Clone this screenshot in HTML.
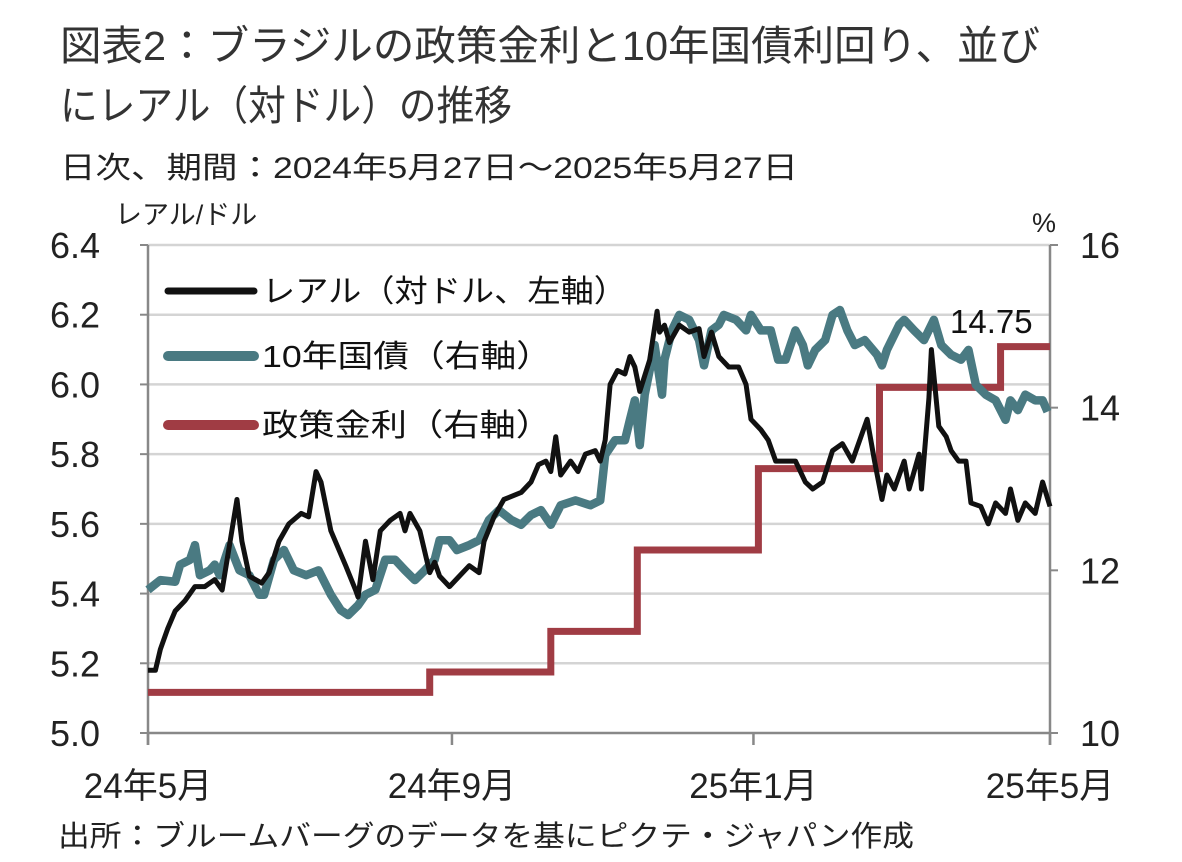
<!DOCTYPE html>
<html><head><meta charset="utf-8"><style>
body{margin:0;background:#fff;}
svg{display:block;font-family:"Liberation Sans","Noto Sans CJK JP",sans-serif;}
</style></head><body>
<svg id="chart" width="1182" height="862" viewBox="0 0 1182 862" xmlns="http://www.w3.org/2000/svg">
<text x="60" y="60" font-size="41" fill="#333" textLength="980" lengthAdjust="spacingAndGlyphs">図表2：ブラジルの政策金利と10年国債利回り、並び</text>
<text x="60" y="120" font-size="41" fill="#333" textLength="452" lengthAdjust="spacingAndGlyphs">にレアル（対ドル）の推移</text>
<text x="60" y="178" font-size="30" fill="#222" textLength="738" lengthAdjust="spacingAndGlyphs">日次、期間：2024年5月27日～2025年5月27日</text>
<text x="115" y="224" font-size="27" fill="#222">レアル/ドル</text>
<text x="1032" y="232" font-size="27" fill="#222">%</text>
<g id="grid"></g><g id="axes"></g><g id="series"></g>
<g>
<line x1="168" y1="291" x2="254" y2="291" stroke="#111" stroke-width="7" stroke-linecap="round"/>
<text x="262" y="302" font-size="31" fill="#111" textLength="365" lengthAdjust="spacingAndGlyphs">レアル（対ドル、左軸）</text>
<line x1="168" y1="356" x2="254" y2="356" stroke="#4a7a82" stroke-width="10" stroke-linecap="round"/>
<text x="262" y="367" font-size="31" fill="#111" textLength="290" lengthAdjust="spacingAndGlyphs">10年国債（右軸）</text>
<line x1="168" y1="425" x2="254" y2="425" stroke="#a03c44" stroke-width="10" stroke-linecap="round"/>
<text x="262" y="436" font-size="31" fill="#111" textLength="290" lengthAdjust="spacingAndGlyphs">政策金利（右軸）</text>
</g>
<text x="950" y="333" font-size="33" fill="#111">14.75</text>
<text x="58" y="846" font-size="29" fill="#222" textLength="856" lengthAdjust="spacingAndGlyphs">出所：ブルームバーグのデータを基にピクテ・ジャパン作成</text>
</svg>
<script>
const brlDays=[0,3,5,8,11,15,19,23,27,30,33,36,38,41,46,49,53,57,62,65,68,70,74,80,84,85,88,91,94,98,102,104,106,110,114,116,118,122,126,130,134,136,140,144,151,155,158,161,163,165,167,171,174,177,181,183,185,187,190,193,195,197,199,203,206,207,209,211,215,219,223,225,228,231,235,239,242,244,248,251,254,258,262,266,269,273,277,281,285,288,291,294,297,299,302,306,308,312,313,316,317,320,323,325,328,331,333,337,340,343,347,349,352,355,359,362,365];
const brlValues=[5.18,5.18,5.24,5.30,5.35,5.38,5.42,5.42,5.44,5.41,5.54,5.67,5.55,5.45,5.43,5.46,5.55,5.60,5.63,5.62,5.75,5.72,5.58,5.48,5.41,5.39,5.55,5.44,5.58,5.61,5.63,5.58,5.63,5.58,5.46,5.49,5.45,5.42,5.45,5.48,5.46,5.55,5.62,5.67,5.69,5.72,5.77,5.78,5.75,5.85,5.74,5.78,5.75,5.80,5.81,5.78,5.84,6.00,6.04,6.03,6.08,6.05,5.98,6.07,6.21,6.15,6.17,6.12,6.17,6.15,6.16,6.08,6.15,6.08,6.05,6.05,6.00,5.90,5.87,5.84,5.78,5.78,5.78,5.72,5.70,5.72,5.81,5.83,5.78,5.84,5.90,5.78,5.67,5.74,5.70,5.78,5.70,5.80,5.70,5.96,6.10,5.88,5.85,5.81,5.78,5.78,5.66,5.65,5.60,5.66,5.63,5.70,5.61,5.66,5.63,5.72,5.65];
const bondDays=[0,5,11,13,17,19,21,25,27,29,33,37,41,45,47,51,55,59,64,69,74,78,81,85,88,92,96,100,104,108,112,116,118,122,125,130,134,138,142,147,151,155,159,163,167,173,179,183,185,189,193,195,197,199,201,203,205,208,209,212,215,219,223,225,228,231,233,238,242,244,248,252,255,258,262,265,267,270,274,277,280,283,286,290,295,297,299,304,306,310,314,318,321,325,329,332,335,339,343,345,347,349,352,355,359,362,364];
const bondValues=[11.76,11.88,11.86,12.07,12.13,12.31,11.94,12.0,12.07,11.94,12.31,12.0,11.94,11.70,11.70,12.13,12.25,12.0,11.94,12.0,11.70,11.51,11.45,11.57,11.70,11.76,12.13,12.13,12.0,11.88,12.0,12.13,12.37,12.37,12.25,12.31,12.37,12.62,12.74,12.62,12.56,12.68,12.74,12.56,12.80,12.86,12.80,12.86,13.42,13.60,13.60,13.85,14.09,13.54,14.16,14.46,14.77,14.16,14.59,14.95,15.14,15.08,14.83,14.52,14.95,15.02,15.14,15.08,14.95,15.14,14.95,14.95,14.59,14.59,14.95,14.77,14.52,14.71,14.83,15.14,15.20,14.95,14.77,14.83,14.65,14.52,14.71,15.02,15.08,14.95,14.83,15.08,14.77,14.65,14.59,14.71,14.28,14.16,14.09,13.97,13.85,14.09,13.97,14.16,14.09,14.09,13.95];
const policyDays=[0,114,163,198,247,296,345];
const policyValues=[10.5,10.75,11.25,12.25,13.25,14.25,14.75];
const leftTicks=[5.0,5.2,5.4,5.6,5.8,6.0,6.2,6.4];
const leftTickLabels=["5.0","5.2","5.4","5.6","5.8","6.0","6.2","6.4"];
const rightTicks=[10,12,14,16];
const xTickDays=[0,123,245,365];
const xTickLabels=["24年5月","24年9月","25年1月","25年5月"];
const totalDays=365;

const X0=148,X1=1050,YT=245,YB=733;
const xs=d=>X0+(X1-X0)*d/totalDays;
const yl=v=>YB-(v-5.0)/1.4*(YB-YT);
const yr=v=>YB-(v-10)/6*(YB-YT);
const NS="http://www.w3.org/2000/svg";
function mk(tag,attrs,parent){const e=document.createElementNS(NS,tag);for(const k in attrs)e.setAttribute(k,attrs[k]);parent.appendChild(e);return e;}
const grid=document.getElementById('grid'),axes=document.getElementById('axes'),series=document.getElementById('series');
leftTicks.forEach((t,i)=>{
  if(i>0){const g=mk('line',{x1:X0,x2:X1,y1:yl(t),y2:yl(t),stroke:'#d4d4d4','stroke-width':2.5},grid);
  
  }
  const tk=mk('line',{x1:X0-8,x2:X0,y1:yl(t),y2:yl(t),stroke:'#888','stroke-width':2},axes);
  
  
  const lb=mk('text',{x:X0-48,y:yl(t)+13,'font-size':36,'text-anchor':'end',fill:'#222','font-family':'"Liberation Sans Narrow","Liberation Sans",sans-serif'},axes);
  lb.textContent=leftTickLabels[i];
  
  
});
rightTicks.forEach(t=>{
  const tk=mk('line',{x1:X1,x2:X1+8,y1:yr(t),y2:yr(t),stroke:'#888','stroke-width':2},axes);
  
  
  const lb=mk('text',{x:X1+50,y:yr(t)+13,'font-size':36,'text-anchor':'middle',fill:'#222','font-family':'"Liberation Sans Narrow","Liberation Sans",sans-serif'},axes);
  lb.textContent=String(t);
  
  
});
const la=mk('line',{x1:X0,x2:X0,y1:YT,y2:YB+12,stroke:'#888','stroke-width':2.5},axes);


const ra=mk('line',{x1:X1,x2:X1,y1:YT,y2:YB+12,stroke:'#888','stroke-width':2.5},axes);


const ba=mk('line',{x1:X0,x2:X1,y1:YB,y2:YB,stroke:'#888','stroke-width':2.5},axes);


xTickDays.forEach((d,i)=>{
  const tk=mk('line',{x1:xs(d),x2:xs(d),y1:YB,y2:YB+12,stroke:'#888','stroke-width':2.5},axes);
  
  
  const lb=mk('text',{x:xs(d),y:798,'font-size':35,'text-anchor':'middle',fill:'#222'},axes);
  lb.textContent=xTickLabels[i];
  
  
});
let pp=[];
policyDays.forEach((d,i)=>{
  const end=i<policyDays.length-1?policyDays[i+1]:totalDays;
  pp.push([xs(d),yr(policyValues[i])]);pp.push([xs(end),yr(policyValues[i])]);
});
const pl=mk('polyline',{points:pp.map(p=>p.join(',')).join(' '),fill:'none',stroke:'#a03c44','stroke-width':7,'stroke-linejoin':'miter'},series);


const bl=mk('polyline',{points:bondDays.map((d,i)=>xs(d)+','+yr(bondValues[i])).join(' '),fill:'none',stroke:'#4a7a82','stroke-width':8.5,'stroke-linejoin':'round'},series);


const rl=mk('polyline',{points:brlDays.map((d,i)=>xs(d)+','+yl(brlValues[i])).join(' '),fill:'none',stroke:'#111','stroke-width':5,'stroke-linejoin':'round'},series);


</script>
</body></html>
